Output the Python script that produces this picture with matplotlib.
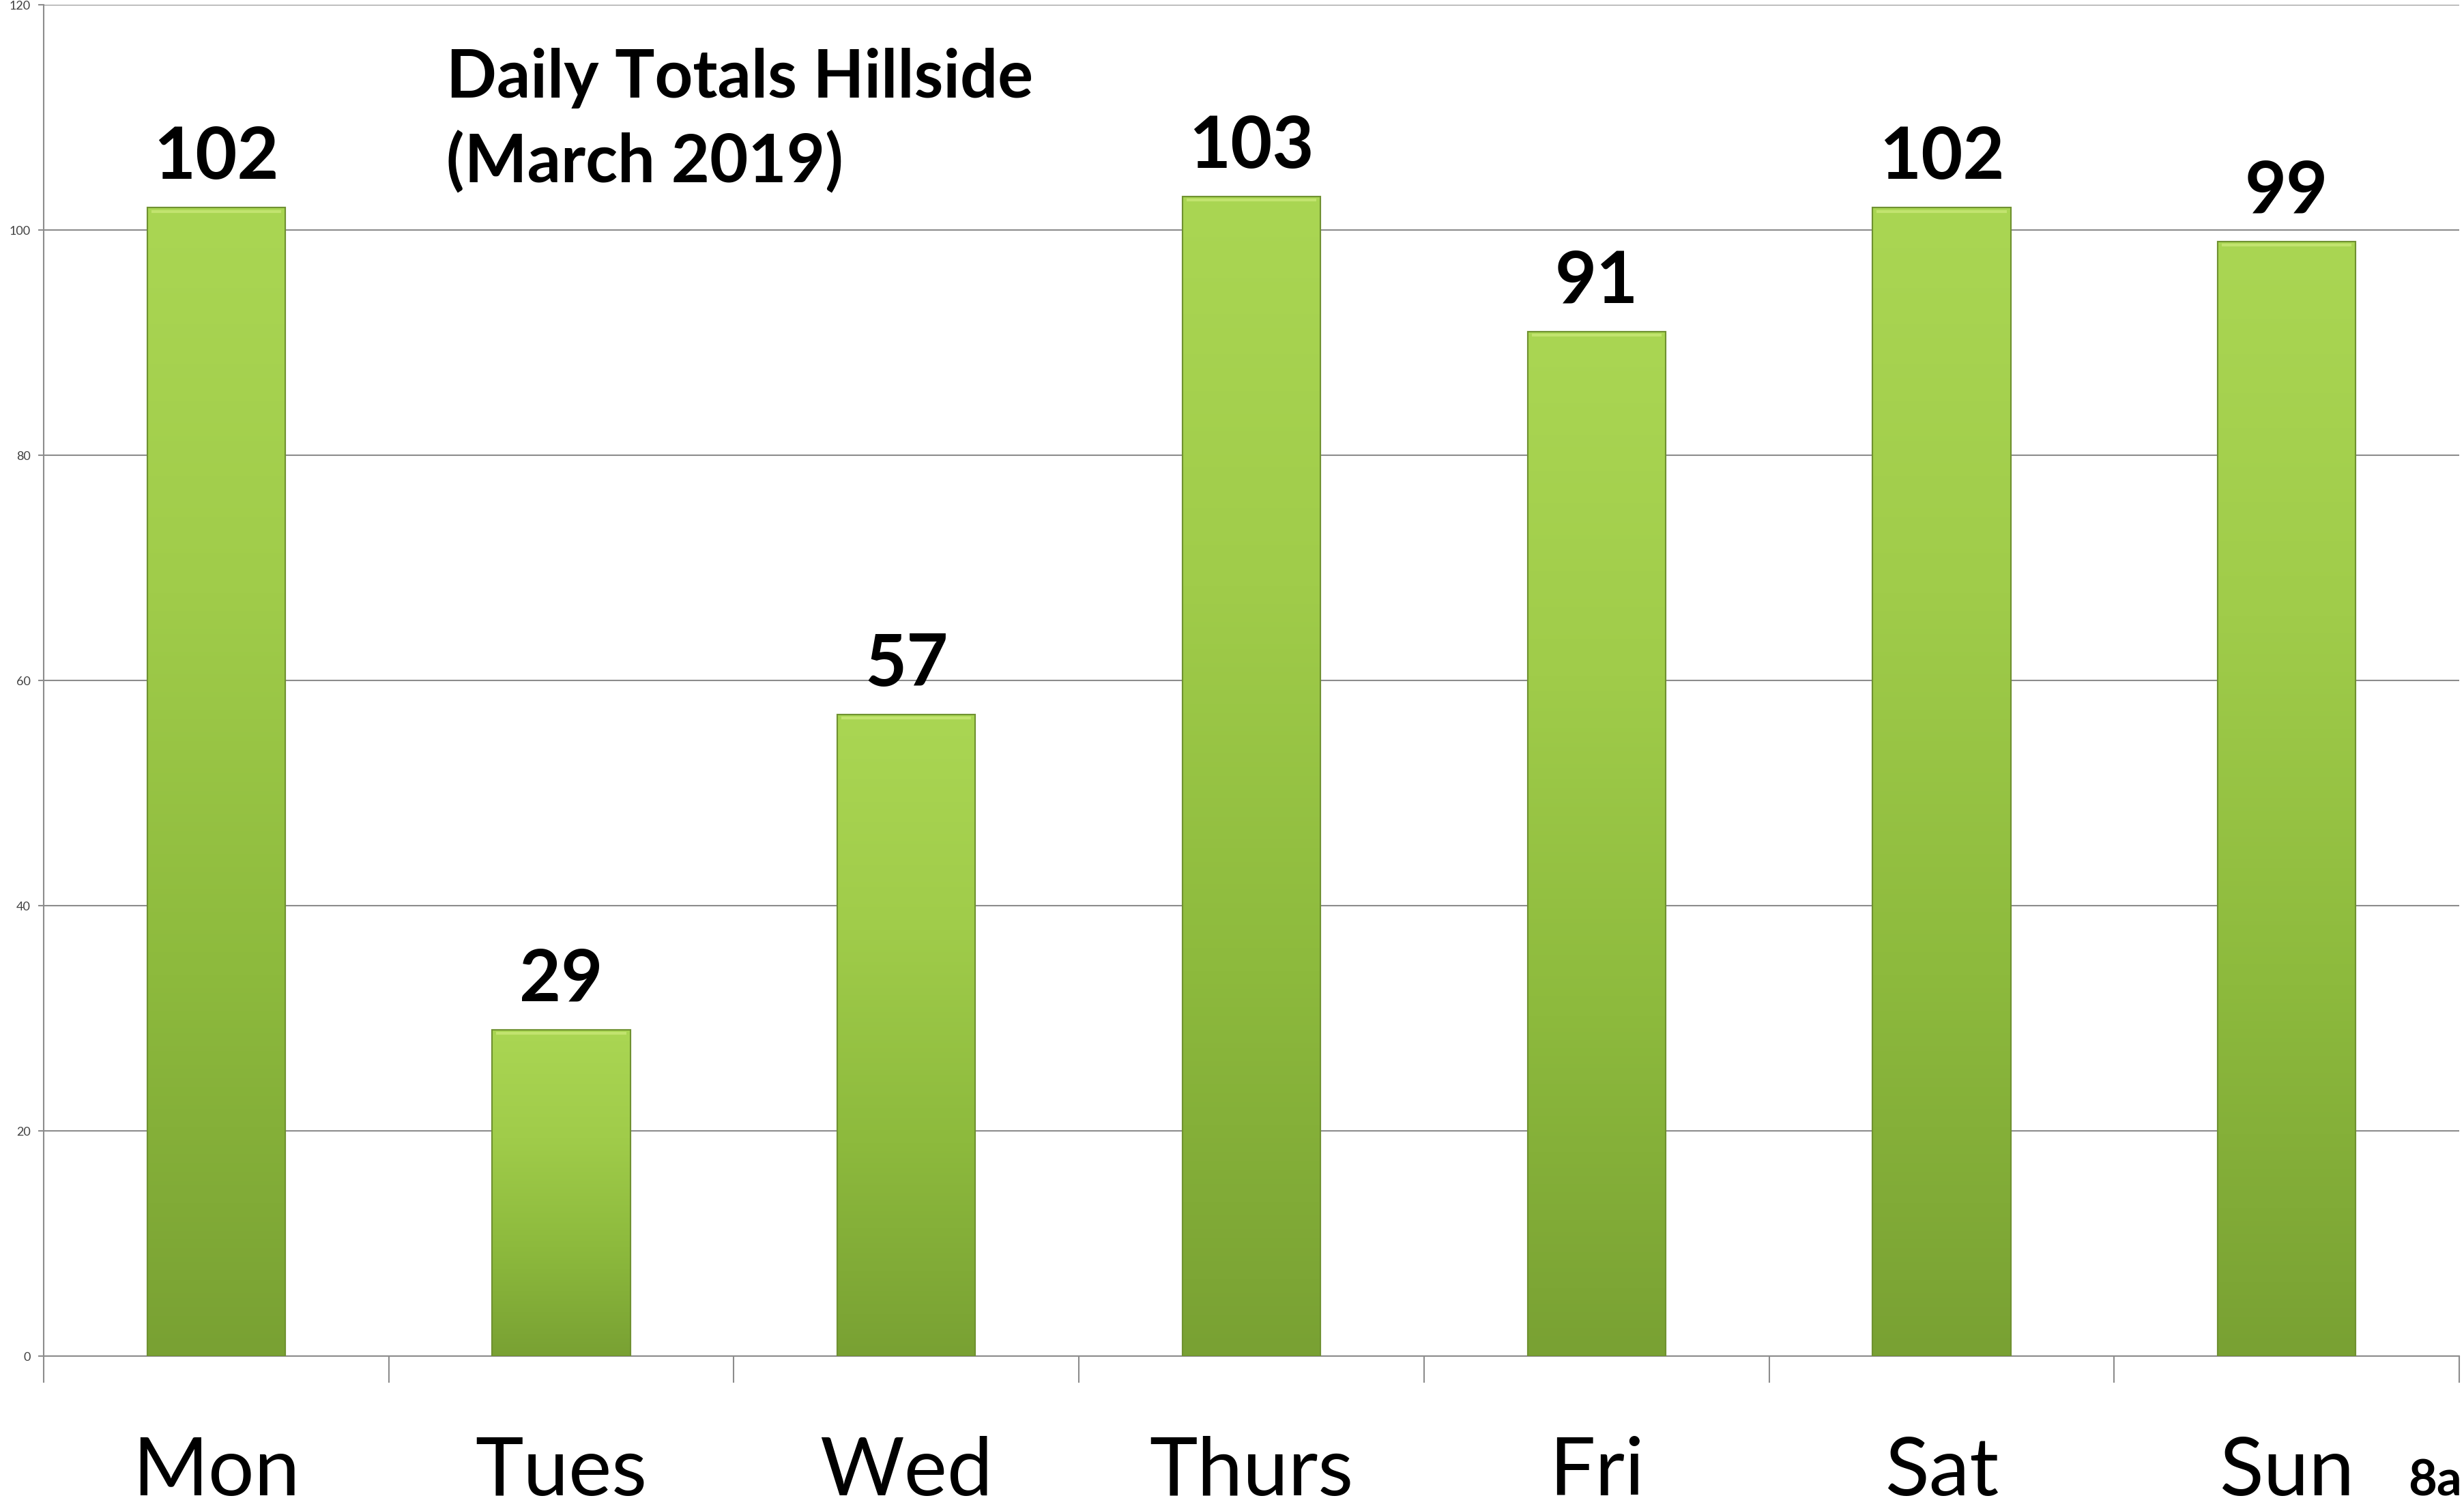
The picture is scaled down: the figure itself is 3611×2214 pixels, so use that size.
import numpy as np
import matplotlib
matplotlib.use("Agg")
import matplotlib.pyplot as plt
from matplotlib.colors import LinearSegmentedColormap

days = ["Mon", "Tues", "Wed", "Thurs", "Fri", "Sat", "Sun"]
totals = [102, 29, 57, 103, 91, 102, 99]
yticks = [0, 20, 40, 60, 80, 100, 120]
title_lines = ["Daily Totals Hillside", "(March 2019)"]
corner_text = "8a"

FONT = ["Lato", "DejaVu Sans"]
plt.rcParams["font.family"] = FONT

W, H = 3611, 2214
fig = plt.figure(figsize=(W / 100, H / 100), dpi=100)
fig.patch.set_facecolor("white")
ax = fig.add_axes([64 / W, 1 - 1987 / H, 3540 / W, 1980 / H])

x = np.arange(len(days))
bars = ax.bar(x, totals, width=0.4, color="#94c23f", edgecolor="#6f9130",
              linewidth=1.5, zorder=3)

cmap = LinearSegmentedColormap.from_list("g", ["#79a133", "#8dba3d", "#a0cc4a", "#aad653"])
grad = np.linspace(0, 1, 256).reshape(-1, 1)
for b in bars:
    x0, w, h = b.get_x(), b.get_width(), b.get_height()
    im = ax.imshow(grad, cmap=cmap, origin="lower", aspect="auto",
                   extent=[x0, x0 + w, 0, h], zorder=3.5)
    im.set_clip_path(b)
    ax.plot([x0 + w * 0.03, x0 + w * 0.97], [h - 0.35, h - 0.35], color="#c2e36f",
            lw=3, zorder=4, solid_capstyle="butt")
    ax.bar(b.get_x() + w / 2, h, width=w, fill=False, edgecolor="#6f9130",
           linewidth=1.5, zorder=5)

for xi, v in zip(x, totals):
    ax.annotate(str(v), (xi, v), xytext=(0, 30), textcoords="offset points",
                ha="center", va="baseline", fontsize=76, fontweight="bold",
                color="black", zorder=6)

ax.set_xlim(-0.5, len(days) - 0.5)
ax.set_ylim(0, 120)
ax.set_yticks(yticks)
ax.set_yticklabels([str(t) for t in yticks], fontsize=13, color="#404040")
ax.tick_params(axis="y", length=6, width=1.5, color="#8c8c8c", pad=8)

ax.set_xticks(np.arange(len(days) + 1) - 0.5)
ax.set_xticklabels([])
ax.tick_params(axis="x", which="major", length=28, width=1.5, color="#8c8c8c")
ax.set_xticks(x, minor=True)
ax.set_xticklabels(days, minor=True, fontsize=86, color="black")
ax.tick_params(axis="x", which="minor", length=0, pad=84)

ax.grid(axis="y", color="#8c8c8c", linewidth=1.5, zorder=1)
ax.set_axisbelow(True)
for s in ["right", "top"]:
    ax.spines[s].set_visible(False)
for s in ["left", "bottom"]:
    ax.spines[s].set_color("#8c8c8c")
    ax.spines[s].set_linewidth(1.5)

ax.text(0.1667, 0.968, "\n".join(title_lines), transform=ax.transAxes,
        ha="left", va="top", fontsize=70, fontweight="bold", color="black",
        linespacing=1.42, zorder=6)

fig.text(0.999, 1 - 2192 / H, corner_text, ha="right", va="baseline",
         fontsize=52, fontweight="bold", color="black")

fig.savefig("out.png", dpi=100, facecolor="white")
